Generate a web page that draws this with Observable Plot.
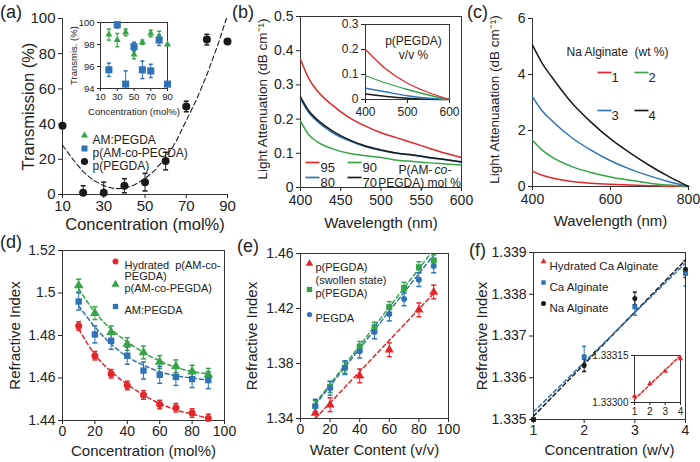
<!DOCTYPE html>
<html><head><meta charset="utf-8">
<script src="https://cdn.jsdelivr.net/npm/d3@7"></script>
<script src="https://cdn.jsdelivr.net/npm/@observablehq/plot@0.6"></script>
<style>
body{margin:0;background:#fff;}
#wrap{position:relative;width:700px;height:462px;overflow:hidden;font-family:"Liberation Sans",Arial,sans-serif;color:#222;}
.pl{position:absolute;font-size:18px;}
</style></head><body><div id="wrap"></div>
<script>
// ---------- DATA ----------
// (a) main: p(PEGDA) transmission
const aConc = [10,20,30,40,50,60,70,80,90];
const aPEGDA = [39,1,1,5,7,19,50,88,87];
const aPEGDAErr = [0,4,6,4,5,5,3,3,0];
const aFitX = [10,15,20,25,30,35,40,45,50,55,60,65,70,75,80,85,89.5];
const aFitY = [28,20,13,8,5,3.3,3.5,5.5,9,14,21,30,42,54,68,84,100];
const aXTicks = [10,30,50,70,90];
const aYTicks = [0,20,40,60,80,100];
// (a) inset
const aiConc = [20,30,40,50,60,70,80,90];
const aiAmPegda = [98.9,98.4,99.1,97.1,98.2,99.0,98.7,98.0];
const aiAmPegdaErr = [0.5,0.6,0.3,0.4,0.2,0.3,0.5,0];
const aiCo = [95.7,99.8,94.4,97.8,95.7,95.6,98.4,94.4];
const aiCoErr = [0.6,0.3,1.2,0.4,0.8,0.6,0.5,0];
const aiYTicks = [94,96,98,100];
// (b) main: light attenuation P(AM-co-PEGDA)
const bWave = [400,410,420,440,460,480,500,520,540,560,580,600];
const b95 = [0.375,0.32,0.285,0.24,0.205,0.18,0.16,0.145,0.13,0.115,0.10,0.088];
const b90 = [0.195,0.155,0.135,0.113,0.10,0.093,0.088,0.08,0.076,0.072,0.069,0.066];
const b80 = [0.26,0.22,0.195,0.16,0.137,0.12,0.108,0.10,0.094,0.087,0.081,0.074];
const b70 = [0.265,0.225,0.20,0.165,0.14,0.122,0.11,0.10,0.095,0.088,0.082,0.075];
const bXTicks = [400,450,500,550,600];
const bYTicks = [0,0.1,0.2,0.3,0.4,0.5];
// (b) inset: p(PEGDA)
const biWave = [400,450,500,550,600];
const bi95 = [0.2,0.12,0.065,0.028,0];
const bi90 = [0.095,0.065,0.04,0.018,0];
const bi80 = [0.045,0.03,0.015,0.005,0];
const bi70 = [0.022,0.012,0.005,0.001,0];
// (c) Na alginate attenuation
const cWave = [400,425,450,500,550,600,650,700,750,800];
const c1 = [0.55,0.4,0.3,0.18,0.12,0.08,0.05,0.03,0.01,0];
const c2 = [1.65,1.3,1.05,0.72,0.5,0.34,0.22,0.12,0.05,0];
const c3 = [3.2,2.7,2.35,1.75,1.3,0.92,0.62,0.38,0.17,0];
const c4 = [5.05,4.4,3.9,3.0,2.3,1.7,1.2,0.75,0.35,0];
// (d) refractive index vs concentration
const dConc = [10,20,30,40,50,60,70,80,90];
const dHyd = [1.4845,1.4705,1.462,1.4565,1.452,1.4475,1.446,1.4435,1.441];
const dCo = [1.5035,1.4905,1.4815,1.476,1.472,1.4675,1.4655,1.463,1.4615];
const dAm = [1.496,1.4805,1.4775,1.4705,1.4635,1.4615,1.4605,1.4595,1.459];
const dHydErr = [0.002,0.002,0.002,0.002,0.002,0.002,0.002,0.002,0.002];
const dCoErr = [0.003,0.003,0.003,0.003,0.003,0.003,0.003,0.003,0.003];
const dAmErr = [0.004,0.004,0.004,0.004,0.004,0.004,0.004,0.004,0.004];
const dHydFit = [1.483,1.471,1.463,1.457,1.452,1.448,1.445,1.443,1.441];
const dCoFit = [1.502,1.491,1.483,1.477,1.472,1.468,1.465,1.463,1.462];
const dAmFit = [1.494,1.484,1.476,1.470,1.466,1.463,1.461,1.460,1.459];
// (e) refractive index vs water content
const eWater = [10,20,30,40,50,60,70,80,90];
const eSwX = [10,20,40,60,80,90];
const eSw = [1.344,1.350,1.371,1.390,1.419,1.432];
const eP = [1.349,1.363,1.377,1.392,1.406,1.421,1.435,1.450,1.455];
const ePEG = [1.349,1.362,1.377,1.389,1.403,1.416,1.427,1.441,1.451];
const eFitX = [10,90];
const eSwFit = [1.340,1.431];
const ePFit = [1.351,1.463];
const ePEGFit = [1.350,1.459];
// (f) alginate refractive index
const fConc = [1,2,3,4];
const fCa = [1.335,1.3365,1.3377,1.3385];
const fCaErr = [0,0.00025,0.0002,0.0003];
const fNa = [1.335,1.3363,1.3379,1.3386];
const fNaErr = [0,0.00015,0.00015,0.0002];
const fCaFit = [1.33518,1.33875];
const fNaFit = [1.33508,1.33882];
const fFitX = [1,4];
const fHyd = [1.33302,1.33306,1.33310,1.33314];
const fHydFit = [1.33301,1.33315];

// ---------- HELPERS ----------
const wrap = document.getElementById("wrap");
const FONT = "'Liberation Sans', Arial, sans-serif";
const RED="#e3262b", GREEN="#35a447", BLUE="#2f73b6", BLACK="#1a1a1a";
const zip = (xs, ys) => xs.map((x,i)=>({x, y:ys[i]}));
const zipE = (xs, ys, es) => xs.map((x,i)=>({x, y:ys[i], e:es[i]}));
const hline = {draw(ctx, size){ const r = Math.sqrt(size/Math.PI); ctx.moveTo(-r,0); ctx.lineTo(r,0); }};
function place(svg, left, top){ svg.style.position="absolute"; svg.style.left=left+"px"; svg.style.top=top+"px"; wrap.appendChild(svg); }
function plot(o, fs){ return Plot.plot({...o, style:{fontFamily:FONT, fontSize:fs+"px", background:"none", overflow:"visible", color:"#222"}}); }
function err(data, color, cap=2.5){
  const d = data.filter(v=>v.e>0);
  return [
    Plot.ruleX(d, {x:"x", y1:v=>v.y-v.e, y2:v=>v.y+v.e, stroke:color, strokeWidth:1, clip:true}),
    Plot.dot(d, {x:"x", y:v=>v.y-v.e, symbol:hline, r:cap, stroke:color, clip:true}),
    Plot.dot(d, {x:"x", y:v=>v.y+v.e, symbol:hline, r:cap, stroke:color, clip:true})
  ];
}
function titles(xt, yt, xOff, yOff, fs, yfs=fs, yShift=0){
  return [
    Plot.text([xt], {frameAnchor:"bottom", dy:xOff, text:d=>d, textAnchor:"middle", lineAnchor:"bottom", fontSize:fs, fill:"#222"}),
    Plot.text([yt], {frameAnchor:"left", dx:-yOff, dy:yShift, text:d=>d, rotate:-90, textAnchor:"middle", lineAnchor:"top", fontSize:yfs, fill:"#222"})
  ];
}
function legDot(dx, dy, symbol, color, r){ return Plot.dot([0], {frameAnchor:"top-left", dx, dy, symbol, r, fill:color, stroke:"none"}); }
function legLine(dx, dy, color){ return Plot.dot([0], {frameAnchor:"top-left", dx, dy, symbol:hline, r:7, stroke:color, strokeWidth:1.7}); }
function legText(dx, dy, text, fs, anchor="start"){ return Plot.text([text], {frameAnchor:"top-left", dx, dy, text:d=>d, textAnchor:anchor, fontSize:fs, fill:"#222"}); }
const f1 = d => d===0 ? "0" : d.toFixed(1);
const fInt = d => String(d);
const X = (domain, ticks, fmt=fInt, ts=4, tp=2) => ({domain, ticks, tickFormat:fmt, tickSize:ts, tickPadding:tp, label:null});
const Y = (domain, ticks, fmt=fInt, ts=4) => ({domain, ticks, tickFormat:fmt, tickSize:ts, tickPadding:3, label:null});

// ---------- (a) ----------
place(plot({
  width:240, height:230, marginLeft:62, marginRight:13, marginTop:18, marginBottom:36,
  x:X([10,90], aXTicks), y:Y([0,100], aYTicks),
  marks:[
    Plot.ruleX([10], {stroke:"#333"}), Plot.ruleY([0], {stroke:"#333"}),
    ...titles("Concentration (mol%)", "Transmission (%)", 35, 40, 16.5),
    Plot.line(zip(aFitX, aFitY), {x:"x", y:"y", stroke:BLACK, strokeDasharray:"5,3", strokeWidth:1.1, clip:true}),
    ...err(zipE(aConc, aPEGDA, aPEGDAErr), BLACK),
    Plot.dot(zip(aConc, aPEGDA), {x:"x", y:"y", r:4, fill:BLACK}),
    legDot(22, 117, "triangle", GREEN, 2.6), legText(30, 117, "AM:PEGDA", 12),
    legDot(22, 130, "square", BLUE, 3.4), legText(30, 130, "p(AM-co-PEGDA)", 12),
    legDot(22, 143, "circle", BLACK, 3.6), legText(30, 143, "p(PEGDA)", 12)
  ]
}, 15), 0, 0);

// (a) inset
place(plot({
  width:110, height:112, marginLeft:38, marginRight:5, marginTop:10, marginBottom:36,
  x:X([10,90], aXTicks, fInt, 3), y:Y([94,100], aiYTicks, fInt, 3),
  marks:[
    Plot.frame({stroke:"#333"}),
    ...titles("Concentration (mol%)", "Transmis. (%)", 26, 30, 9.5),
    ...err(zipE(aiConc, aiAmPegda, aiAmPegdaErr), GREEN, 2),
    ...err(zipE(aiConc, aiCo, aiCoErr), BLUE, 2),
    Plot.dot(zip(aiConc, aiAmPegda), {x:"x", y:"y", symbol:"triangle", r:2.6, fill:GREEN}),
    Plot.dot(zip(aiConc, aiCo), {x:"x", y:"y", symbol:"square", r:4, fill:BLUE})
  ]
}, 9.5), 62, 12);

// ---------- (b) ----------
place(plot({
  width:240, height:230, marginLeft:70, marginRight:9, marginTop:16, marginBottom:43,
  x:X([400,600], bXTicks, fInt, 4, 4), y:Y([0,0.5], bYTicks, f1),
  marks:[
    Plot.frame({stroke:"#333"}),
    ...titles("Wavelength (nm)", "Light Attenuation (dB cm⁻¹)", 40, 43, 15, 13.5, -3),
    Plot.line(zip(bWave,b95), {x:"x", y:"y", stroke:RED, strokeWidth:1.5, curve:"monotone-x"}),
    Plot.line(zip(bWave,b90), {x:"x", y:"y", stroke:GREEN, strokeWidth:1.5, curve:"monotone-x"}),
    Plot.line(zip(bWave,b80), {x:"x", y:"y", stroke:BLUE, strokeWidth:1.5, curve:"monotone-x"}),
    Plot.line(zip(bWave,b70), {x:"x", y:"y", stroke:BLACK, strokeWidth:1.5, curve:"monotone-x"}),
    legLine(12, 146, RED), legText(20, 146, "95", 13),
    legLine(54, 146, GREEN), legText(62, 146, "90", 13),
    legLine(12, 161, BLUE), legText(20, 161, "80", 13),
    legLine(54, 161, BLACK), legText(62, 161, "70", 13),
    Plot.text(["P(AM-"], {frameAnchor:"top-left", dx:98, dy:149, text:d=>d, textAnchor:"start", fontSize:12, fill:"#222"}),
    Plot.text(["co"], {frameAnchor:"top-left", dx:134, dy:149, text:d=>d, textAnchor:"start", fontSize:12, fontStyle:"italic", fill:"#222"}),
    Plot.text(["-"], {frameAnchor:"top-left", dx:147, dy:149, text:d=>d, textAnchor:"start", fontSize:12, fill:"#222"}),
    legText(119, 162, "PEGDA) mol %", 12, "middle")
  ]
}, 14), 230, 0);

// (b) inset
place(plot({
  width:130, height:110, marginLeft:35, marginRight:11, marginTop:10, marginBottom:25,
  x:X([400,600], [400,500,600], fInt, 4, 4), y:Y([0,0.3], [0,0.1,0.2,0.3], f1),
  marks:[
    Plot.frame({stroke:"#333"}),
    Plot.line(zip(biWave,bi70), {x:"x", y:"y", stroke:BLACK, strokeWidth:1.3, curve:"monotone-x"}),
    Plot.line(zip(biWave,bi80), {x:"x", y:"y", stroke:BLUE, strokeWidth:1.3, curve:"monotone-x"}),
    Plot.line(zip(biWave,bi90), {x:"x", y:"y", stroke:GREEN, strokeWidth:1.3, curve:"monotone-x"}),
    Plot.line(zip(biWave,bi95), {x:"x", y:"y", stroke:RED, strokeWidth:1.3, curve:"monotone-x"}),
    legText(48, 12, "p(PEGDA)", 12, "middle"),
    legText(48, 26, "v/v %", 12, "middle")
  ]
}, 12), 330, 14);

// ---------- (c) ----------
place(plot({
  width:240, height:230, marginLeft:72, marginRight:12, marginTop:18, marginBottom:44,
  x:X([400,800], [400,600,800], fInt, 4, 4), y:Y([0,6], [0,2,4,6]),
  marks:[
    Plot.ruleX([400], {stroke:"#333"}), Plot.ruleY([0], {stroke:"#333"}),
    ...titles("Wavelength (nm)", "Light Attenuaation (dB cm⁻¹)", 39, 43, 15, 13.5, -3),
    Plot.line(zip(cWave,c1), {x:"x", y:"y", stroke:RED, strokeWidth:1.5, curve:"monotone-x"}),
    Plot.line(zip(cWave,c2), {x:"x", y:"y", stroke:GREEN, strokeWidth:1.5, curve:"monotone-x"}),
    Plot.line(zip(cWave,c3), {x:"x", y:"y", stroke:BLUE, strokeWidth:1.5, curve:"monotone-x"}),
    Plot.line(zip(cWave,c4), {x:"x", y:"y", stroke:BLACK, strokeWidth:1.5, curve:"monotone-x"}),
    legText(85, 29, "Na Alginate  (wt %)", 12, "middle"),
    legLine(72, 54, RED), legText(79, 54, "1", 13),
    legLine(109, 54, GREEN), legText(116, 54, "2", 13),
    legLine(72, 92, BLUE), legText(79, 92, "3", 13),
    legLine(109, 92, BLACK), legText(116, 92, "4", 13)
  ]
}, 14), 460, 0);

// ---------- (d) ----------
place(plot({
  width:240, height:232, marginLeft:62, marginRight:16, marginTop:20, marginBottom:42,
  x:X([0,100], [0,20,40,60,80,100]), y:Y([1.44,1.52], [1.44,1.46,1.48,1.5,1.52], d=>String(+d.toFixed(2))),
  marks:[
    Plot.frame({stroke:"#333"}),
    ...titles("Concentration (mol%)", "Refractive Index", 35, 53, 15),
    Plot.line(zip(dConc,dHydFit), {x:"x", y:"y", stroke:RED, strokeDasharray:"4,3", curve:"monotone-x"}),
    Plot.line(zip(dConc,dCoFit), {x:"x", y:"y", stroke:GREEN, strokeDasharray:"4,3", curve:"monotone-x"}),
    Plot.line(zip(dConc,dAmFit), {x:"x", y:"y", stroke:BLUE, strokeDasharray:"4,3", curve:"monotone-x"}),
    ...err(zipE(dConc,dHyd,dHydErr), RED),
    ...err(zipE(dConc,dCo,dCoErr), GREEN),
    ...err(zipE(dConc,dAm,dAmErr), BLUE),
    Plot.dot(zip(dConc,dHyd), {x:"x", y:"y", r:3.5, fill:RED}),
    Plot.dot(zip(dConc,dCo), {x:"x", y:"y", symbol:"triangle", r:3.6, fill:GREEN}),
    Plot.dot(zip(dConc,dAm), {x:"x", y:"y", symbol:"square", r:3.6, fill:BLUE}),
    legDot(53, 11, "circle", RED, 3), legText(62, 11, "Hydrated  p(AM-co-", 11),
    legText(62, 22, "PEGDA)", 11),
    legDot(53, 34, "triangle", GREEN, 3), legText(62, 34, "p(AM-co-PEGDA)", 11),
    legDot(53, 56, "square", BLUE, 3), legText(62, 56, "AM:PEGDA", 11)
  ]
}, 14), 0, 230);

// ---------- (e) ----------
place(plot({
  width:240, height:232, marginLeft:70, marginRight:22, marginTop:23, marginBottom:44,
  x:X([0,100], [0,20,40,60,80,100]), y:Y([1.34,1.46], [1.34,1.38,1.42,1.46], d=>d.toFixed(2)),
  marks:[
    Plot.frame({stroke:"#333"}),
    ...titles("Water Content (v/v)", "Refractive Index", 36, 54, 15),
    Plot.line(zip(eFitX,eSwFit), {x:"x", y:"y", stroke:RED, strokeDasharray:"4,3", clip:true}),
    Plot.line(zip(eFitX,ePFit), {x:"x", y:"y", stroke:GREEN, strokeDasharray:"4,3", clip:true}),
    Plot.line(zip(eFitX,ePEGFit), {x:"x", y:"y", stroke:BLUE, strokeDasharray:"4,3", clip:true}),
    ...err(zipE(eSwX,eSw,eSwX.map(()=>0.005)), RED),
    ...err(zipE(eWater,eP,eWater.map(()=>0.004)), GREEN),
    ...err(zipE(eWater,ePEG,eWater.map(()=>0.005)), BLUE),
    Plot.dot(zip(eSwX,eSw), {x:"x", y:"y", symbol:"triangle", r:3.4, fill:RED}),
    Plot.dot(zip(eWater,eP), {x:"x", y:"y", symbol:"square", r:3.4, fill:GREEN}),
    Plot.dot(zip(eWater,ePEG), {x:"x", y:"y", r:3, fill:BLUE}),
    legDot(9, 10, "triangle", RED, 2.8), legText(15, 10, "p(PEGDA)", 11),
    legText(15, 23, "(swollen state)", 11),
    legDot(9, 36, "square", GREEN, 3), legText(15, 36, "p(PEGDA)", 11),
    legDot(9, 61, "circle", BLUE, 2.6), legText(15, 61, "PEGDA", 11)
  ]
}, 14), 230, 230);

// ---------- (f) ----------
place(plot({
  width:240, height:232, marginLeft:73, marginRight:15, marginTop:22, marginBottom:43,
  x:X([1,4], [1,2,3,4]), y:Y([1.335,1.339], [1.335,1.336,1.337,1.338,1.339], d=>d.toFixed(3)),
  marks:[
    Plot.frame({stroke:"#333"}),
    ...titles("Concentration (w/v)", "Refractive Index", 35, 57, 15),
    Plot.line(zip(fFitX,fNaFit), {x:"x", y:"y", stroke:BLACK, strokeDasharray:"4,3"}),
    Plot.line(zip(fFitX,fCaFit), {x:"x", y:"y", stroke:BLUE, strokeDasharray:"4,3"}),
    ...err(zipE(fConc,fCa,fCaErr), BLUE, 2),
    ...err(zipE(fConc,fNa,fNaErr), BLACK, 2),
    Plot.dot(zip(fConc,fCa), {x:"x", y:"y", symbol:"square", r:2.8, fill:BLUE}),
    Plot.dot(zip(fConc,fNa), {x:"x", y:"y", r:2.5, fill:BLACK}),
    legDot(10, 9, "triangle", RED, 2.2), legText(16, 9, "Hydrated Ca Alginate", 11.5),
    legDot(10, 30, "square", BLUE, 2.5), legText(16, 30, "Ca Alginate", 11.5),
    legDot(10, 51, "circle", BLACK, 2.5), legText(16, 51, "Na Alginate", 11.5)
  ]
}, 14), 460, 230);

// (f) inset
place(plot({
  width:100, height:75, marginLeft:44, marginRight:10, marginTop:10, marginBottom:18,
  x:X([1,4], [1,2,3,4], fInt, 3), y:Y([1.333,1.33315], [1.333,1.33315], d=>d.toFixed(5), 3),
  marks:[
    Plot.frame({stroke:"#333"}),
    Plot.line(zip(fFitX,fHydFit), {x:"x", y:"y", stroke:RED, strokeDasharray:"3,2"}),
    Plot.dot(zip(fConc,fHyd), {x:"x", y:"y", symbol:"triangle", r:2, fill:RED})
  ]
}, 10), 590, 345);

// panel labels
[["(a)",0,2],["(b)",232,2],["(c)",467,2],["(d)",0,232],["(e)",237,236],["(f)",469,240]].forEach(([t,l,tp])=>{
  const el=document.createElement("div"); el.className="pl"; el.textContent=t; el.style.left=l+"px"; el.style.top=tp+"px"; wrap.appendChild(el);
});
</script></body></html>
